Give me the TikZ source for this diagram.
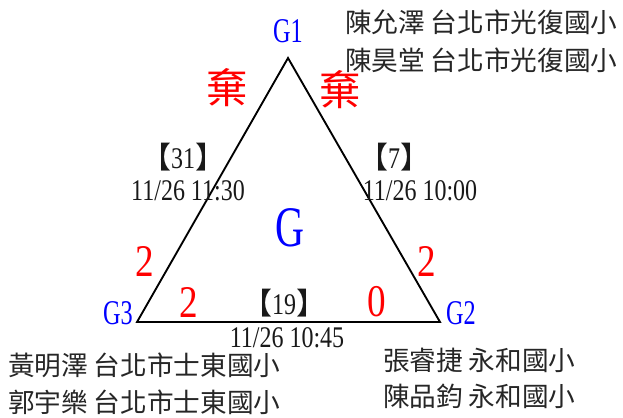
\documentclass[tikz,border=0pt]{standalone}
\usepackage{fontspec}
\setmainfont{Liberation Serif}
\newfontfamily\digf[FakeStretch=0.8]{Liberation Serif}
\newfontfamily\scf[FakeStretch=0.82]{Liberation Serif}
\newfontfamily\gf[FakeStretch=0.7]{Liberation Serif}
\newfontfamily\cjk{Noto Sans CJK TC}
\definecolor{gblue}{RGB}{0,0,255}
\definecolor{sred}{RGB}{255,0,0}
\begin{document}
\begin{tikzpicture}[x=0.75pt,y=-0.75pt,
  every node/.style={inner sep=0pt,outer sep=0pt},
  personlbl/.style={anchor=west,font=\cjk\fontsize{20}{24}\selectfont,text=black!85},
  grouplbl/.style={font=\gf\fontsize{26}{30}\selectfont,text=gblue},
  scorelbl/.style={font=\scf\fontsize{34}{38}\selectfont,text=sred},
  quitlbl/.style={font=\cjk\fontsize{31}{35}\selectfont,text=sred},
  matchlbl/.style={font=\digf\fontsize{22.5}{26}\selectfont,text=black!90},
  sideline/.style={line width=1.4pt,line join=miter}]
\useasboundingbox (0,0) rectangle (623,417);
\coordinate (v1) at (288,58);
\coordinate (v2) at (440,322);
\coordinate (v3) at (137,322);
\draw[sideline] (v1) -- (v2) -- (v3) -- cycle;
\node[grouplbl] (g1) at (288,31) {G1};
\node[grouplbl] (g2) at (461,313) {G2};
\node[grouplbl] (g3) at (118,313) {G3};
\node[font=\gf\fontsize{43}{47}\selectfont,text=gblue] (g) at (290,228) {G};
\node[quitlbl] (q1) at (227,88) {棄};
\node[quitlbl] (q2) at (340,90) {棄};
\node[scorelbl] (s1) at (145,261) {2};
\node[scorelbl] (s2) at (189,302) {2};
\node[scorelbl] (s3) at (427,261) {2};
\node[scorelbl] (s4) at (377,302) {0};
\node[matchlbl] (m31) at (183,157) {{\cjk 【}31{\cjk 】}};
\node[matchlbl] (d31) at (188,191) {11/26 11:30};
\node[matchlbl] (m7) at (394,157) {{\cjk 【}7{\cjk 】}};
\node[matchlbl] (d7) at (420,191) {11/26 10:00};
\node[matchlbl] (m19) at (284,303) {{\cjk 【}19{\cjk 】}};
\node[matchlbl] (d19) at (287,338) {11/26 10:45};
\node[personlbl] (n1a) at (345,22) {陳允澤 台北市光復國小};
\node[personlbl] (n1b) at (345,60) {陳昊堂 台北市光復國小};
\node[personlbl] (n3a) at (8,365) {黃明澤 台北市士東國小};
\node[personlbl] (n3b) at (8,402) {郭宇樂 台北市士東國小};
\node[personlbl] (n2a) at (383,360) {張睿捷 永和國小};
\node[personlbl] (n2b) at (383,396) {陳品鈞 永和國小};
\end{tikzpicture}
\end{document}
